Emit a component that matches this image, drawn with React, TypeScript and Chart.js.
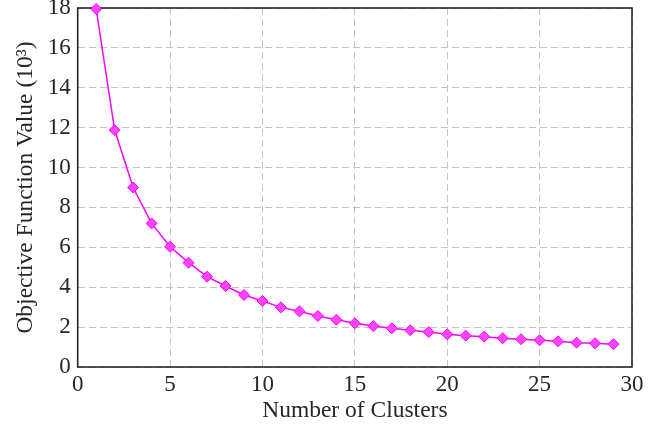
import React, { useEffect, useRef } from "react";
import { Chart, registerables } from "chart.js";

Chart.register(...registerables);

const clusters = [1, 2, 3, 4, 5, 6, 7, 8, 9, 10, 11, 12, 13, 14, 15, 16, 17, 18, 19, 20, 21, 22, 23, 24, 25, 26, 27, 28, 29];
const objectiveValues = [17.95, 11.88, 9.0, 7.2, 6.03, 5.23, 4.53, 4.06, 3.61, 3.31, 2.99, 2.79, 2.56, 2.37, 2.19, 2.05, 1.94, 1.84, 1.75, 1.64, 1.57, 1.52, 1.44, 1.39, 1.34, 1.29, 1.22, 1.19, 1.14];
const xTitle = "Number of Clusters";
const yTitle = "Objective Function Value (10\u00B3)";

const boxPlugin = {
  id: "boxBorder",
  beforeDatasetsDraw(chart: any) {
    const { ctx, chartArea } = chart;
    ctx.save();
    ctx.strokeStyle = "#262626";
    ctx.lineWidth = 1.6;
    ctx.setLineDash([]);
    ctx.strokeRect(chartArea.left, chartArea.top, chartArea.right - chartArea.left, chartArea.bottom - chartArea.top);
    ctx.restore();
  },
};

export default function App() {
  const ref = useRef<HTMLCanvasElement>(null);
  useEffect(() => {
    if (!ref.current) return;
    const family = "'Liberation Serif', 'Times New Roman', serif";
    const tickFont = { family, size: 23 };
    const titleFont = { family, size: 23.5 };
    const chart = new Chart(ref.current, {
      type: "line",
      data: {
        datasets: [
          {
            data: clusters.map((c, i) => ({ x: c, y: objectiveValues[i] })),
            borderColor: "#ff00ff",
            borderWidth: 1.5,
            backgroundColor: "#ff44ff",
            pointBorderColor: "#ff00ff",
            pointBorderWidth: 1,
            pointStyle: "rectRot",
            pointRadius: 5.5,
            tension: 0,
            clip: false,
          },
        ],
      },
      options: {
        animation: false,
        responsive: false,
        maintainAspectRatio: false,
        layout: { padding: { top: 8, right: 27, left: 0, bottom: 0 } },
        plugins: { legend: { display: false }, tooltip: { enabled: false } },
        scales: {
          x: {
            type: "linear",
            min: 0,
            max: 30,
            ticks: { stepSize: 5, color: "#262626", font: tickFont, padding: 4 },
            grid: { color: "#c4c4c4", lineWidth: 1, drawTicks: false, tickLength: 0 },
            border: { display: false, dash: [7, 4] },
            title: { display: true, text: xTitle, color: "#262626", font: titleFont, padding: { top: 0, bottom: 0 } },
            afterFit: (s: any) => { s.height = 58; s.paddingLeft = 0; s.paddingRight = 0; },
          },
          y: {
            type: "linear",
            min: 0,
            max: 18,
            ticks: { stepSize: 2, color: "#262626", font: tickFont, padding: 7 },
            grid: { color: "#c4c4c4", lineWidth: 1, drawTicks: false, tickLength: 0 },
            border: { display: false, dash: [7, 4] },
            title: { display: true, text: yTitle, color: "#262626", font: titleFont, padding: { top: 12, bottom: 0 } },
            afterFit: (s: any) => { s.width = 77.7; s.paddingTop = 0; s.paddingBottom = 0; },
          },
        },
      },
      plugins: [boxPlugin],
    } as any);
    return () => chart.destroy();
  }, []);
  return (
    <div style={{ position: "absolute", left: 0, top: 0, width: 659, height: 425, background: "#fff" }}>
      <canvas ref={ref} width={659} height={425} style={{ width: 659, height: 425 }} />
    </div>
  );
}
